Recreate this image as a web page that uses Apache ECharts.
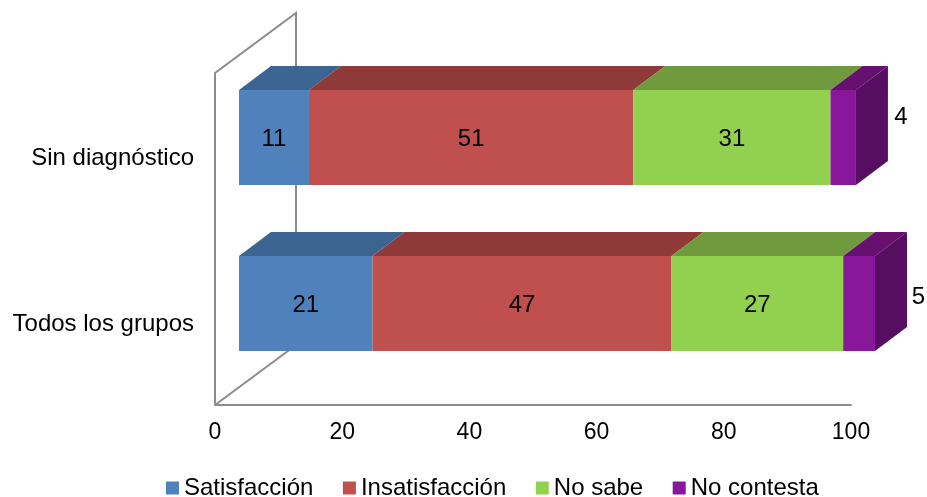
<!DOCTYPE html>
<html>
<head>
<meta charset="utf-8">
<style>html,body{margin:0;padding:0;background:#fff}#c{width:927px;height:497px}</style>
<script src="https://cdn.jsdelivr.net/npm/echarts@6/dist/echarts.min.js"></script>
</head>
<body>
<div id="c"></div>
<script>
// Stacked horizontal bars with an oblique 3D look
const categories = ['Todos los grupos', 'Sin diagnóstico'];
const seriesNames = ['Satisfacción', 'Insatisfacción', 'No sabe', 'No contesta'];
const satisfaccion = [21, 11];
const insatisfaccion = [47, 51];
const noSabe = [27, 31];
const noContesta = [5, 4];
const xTicks = { min: 0, max: 100, interval: 20 };

const frontColors = ['#4f81bd', '#c0504d', '#92d050', '#88179b'];
const topColors = ['#3c6491', '#8e3a38', '#6f9a3e', '#66116f'];
const sideColor = '#560d62';
const wallColor = '#8c8c8c';
const FONT = '"Liberation Sans", Arial, sans-serif';
const FONT_SIZE = 24;
const TICK_FONT_SIZE = 23;

// Oblique projection: the wall's depth, and the bar's place inside it
const wallDepth = [81, -60];
const barShift = [24, -18.5];
const barDepth = [32, -24];
const barRatio = 95 / 166;

// Outer labels of the thin last segment sit beside the bar, per category
const outerLabelShift = [[43.5, -6.5], [45, -20]];

const allValues = [satisfaccion, insatisfaccion, noSabe, noContesta];
const lastIndex = allValues.length - 1;

function stackedData(seriesIndex) {
  return categories.map((_, c) => {
    let start = 0;
    for (let s = 0; s < seriesIndex; s++) start += allValues[s][c];
    return [start, c, start + allValues[seriesIndex][c], allValues[seriesIndex][c]];
  });
}

function poly(points, fill) {
  return { type: 'polygon', shape: { points }, style: { fill, stroke: null } };
}

function renderSegment(seriesIndex) {
  return function (params, api) {
    const cat = api.value(1);
    const value = api.value(3);
    const a = api.coord([api.value(0), cat]);
    const b = api.coord([api.value(2), cat]);
    const h = api.size([0, 1])[1] * barRatio;
    const x0 = a[0] + barShift[0];
    const x1 = b[0] + barShift[0];
    const yc = a[1] + barShift[1];
    const y0 = yc - h / 2;
    const y1 = yc + h / 2;
    const [dx, dy] = barDepth;
    const children = [
      poly([[x0, y0], [x1, y0], [x1 + dx, y0 + dy], [x0 + dx, y0 + dy]], topColors[seriesIndex]),
      poly([[x0, y0], [x1, y0], [x1, y1], [x0, y1]], frontColors[seriesIndex])
    ];
    let lx = (x0 + x1) / 2;
    let ly = yc + 1.5;
    if (seriesIndex === lastIndex) {
      children.push(poly([[x1, y0], [x1 + dx, y0 + dy], [x1 + dx, y1 + dy], [x1, y1]], sideColor));
      lx = x1 + outerLabelShift[cat][0];
      ly = yc + outerLabelShift[cat][1];
    }
    children.push({
      type: 'text',
      style: {
        x: lx, y: ly, text: String(value), fill: '#000',
        font: FONT_SIZE + 'px ' + FONT, align: 'center', verticalAlign: 'middle'
      }
    });
    return { type: 'group', children };
  };
}

// Back wall and floor edge, drawn behind the bars
function renderWall(params, api) {
  const o = api.coord([0, 0]);
  const size = api.size([0, 1])[1];
  const bottom = o[1] + size / 2;
  const top = bottom - size * categories.length;
  const [dx, dy] = wallDepth;
  return {
    type: 'polyline',
    shape: { points: [[o[0], bottom], [o[0], top], [o[0] + dx, top + dy], [o[0] + dx, bottom + dy], [o[0], bottom]] },
    style: { fill: null, stroke: wallColor, lineWidth: 2 }
  };
}

const chart = echarts.init(document.getElementById('c'));
chart.setOption({
  backgroundColor: '#fff',
  animation: false,
  color: frontColors,
  grid: { left: 215, right: 76, top: 73, bottom: 92 },
  xAxis: {
    type: 'value', min: xTicks.min, max: xTicks.max, interval: xTicks.interval,
    splitLine: { show: false }, axisTick: { show: false },
    axisLine: { show: true, lineStyle: { color: wallColor, width: 2 } },
    axisLabel: { color: '#000', fontFamily: FONT, fontSize: TICK_FONT_SIZE, margin: 16 }
  },
  yAxis: {
    type: 'category', data: categories,
    axisTick: { show: false }, axisLine: { show: false },
    axisLabel: {
      margin: 21,
      formatter: (name) => '{t|' + name + '}',
      rich: { t: { color: '#000', fontFamily: FONT, fontSize: FONT_SIZE, padding: [5, 0, 0, 0] } }
    }
  },
  legend: {
    left: 166, top: 476, padding: 0, itemWidth: 13, itemHeight: 13, itemGap: 29.5,
    icon: 'rect', data: seriesNames,
    textStyle: { color: '#000', fontFamily: FONT, fontSize: FONT_SIZE }
  },
  series: [
    {
      type: 'custom', silent: true, clip: false, z: 1, legendHoverLink: false,
      coordinateSystem: 'cartesian2d', renderItem: renderWall,
      data: [[0, 0]], encode: { x: 0, y: 1 }
    }
  ].concat(seriesNames.map((name, i) => ({
    type: 'custom', name, clip: false, z: 2 + i,
    coordinateSystem: 'cartesian2d',
    renderItem: renderSegment(i),
    itemStyle: { color: frontColors[i] },
    encode: { x: [0, 2], y: 1 },
    data: stackedData(i)
  })))
});
</script>
</body>
</html>
